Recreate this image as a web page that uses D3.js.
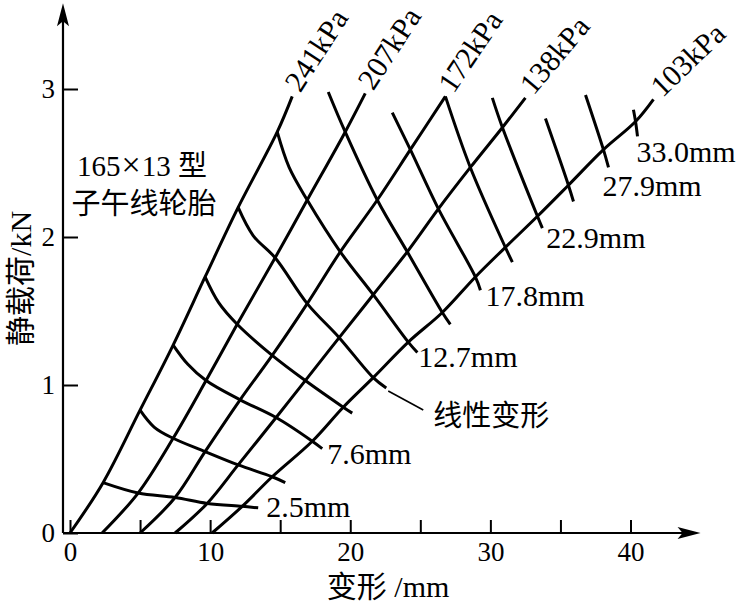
<!DOCTYPE html>
<html>
<head>
<meta charset="utf-8">
<script src="https://cdn.jsdelivr.net/npm/d3@7"></script>
<style>
body { margin: 0; background: #fff; }
text { font-family: "Liberation Serif", "Noto Sans CJK SC", serif; fill: #000; }
</style>
</head>
<body>
<div id="chart"></div>
<script>
const WIDTH = 738, HEIGHT = 603;

// inflation pressure curves: [deflection mm, static load kN]
const pressureNames = ["241kPa", "207kPa", "172kPa", "138kPa", "103kPa"];
const kpa241 = [[0,0],[2.36,0.34],[5.0,0.83],[7.36,1.27],[9.64,1.73],[12.0,2.20],[14.79,2.71],[15.86,2.95]];
const kpa207 = [[2.29,0],[4.86,0.27],[7.36,0.64],[9.71,1.03],[11.93,1.41],[14.64,1.86],[16.93,2.25],[19.64,2.71],[21.07,2.97]];
const kpa172 = [[5.0,0],[7.5,0.24],[9.64,0.55],[12.14,0.90],[14.43,1.20],[16.93,1.55],[19.29,1.90],[21.93,2.25],[24.29,2.59],[26.79,2.95]];
const kpa138 = [[7.5,0],[9.79,0.20],[12.0,0.46],[14.71,0.78],[16.79,1.03],[19.21,1.32],[21.64,1.61],[24.07,1.90],[26.29,2.19],[28.57,2.47],[30.86,2.74],[32.5,2.94]];
const kpa103 = [[10.14,0],[12.29,0.18],[14.43,0.38],[17.29,0.62],[19.5,0.85],[21.64,1.05],[24.14,1.29],[26.57,1.49],[28.93,1.73],[31.07,1.93],[33.36,2.14],[35.57,2.35],[38.07,2.59],[40.36,2.78],[41.64,2.93]];
const pressureCurves = [kpa241, kpa207, kpa172, kpa138, kpa103];

// cross lines (mm), from the 241kPa side down to the 103kPa side
const w1  = [[2.36,0.34],[4.86,0.27],[7.5,0.24],[9.79,0.20],[12.29,0.18],[13.43,0.17]];
const w2  = [[5.0,0.83],[6.0,0.716],[7.36,0.64],[9.64,0.55],[12.0,0.46],[14.43,0.38],[15.36,0.34]];
const w3  = [[7.36,1.27],[8.41,1.14],[9.71,1.03],[12.14,0.90],[14.71,0.78],[17.29,0.62],[18.0,0.57]];
const w4  = [[9.64,1.73],[10.61,1.556],[11.93,1.41],[14.43,1.20],[16.79,1.03],[19.5,0.85],[20.14,0.81]];
const w5  = [[12.0,2.20],[13.07,2.01],[14.64,1.86],[16.93,1.55],[19.21,1.32],[21.64,1.05],[22.57,0.98]];
const w6  = [[14.79,2.71],[15.64,2.47],[16.93,2.25],[19.29,1.90],[21.64,1.61],[24.14,1.29],[24.79,1.22]];
const w7  = [[18.43,2.98],[19.64,2.71],[21.93,2.25],[24.07,1.90],[26.57,1.49],[27.14,1.41]];
const w8  = [[23.0,2.84],[24.29,2.59],[26.29,2.19],[28.93,1.73],[29.29,1.64]];
const w9  = [[26.79,2.95],[28.57,2.47],[31.07,1.93],[31.57,1.83]];
const w10 = [[30.14,2.94],[30.86,2.74],[33.36,2.14],[33.71,2.06]];
const w11 = [[33.93,2.80],[35.57,2.35],[35.93,2.24]];
const w12 = [[36.79,2.96],[38.07,2.59],[38.43,2.47]];
const w13 = [[40.21,2.86],[40.36,2.78],[40.5,2.68]];
const crossLines = [w1, w2, w3, w4, w5, w6, w7, w8, w9, w10, w11, w12, w13];
const crossLabels = ["2.5mm", null, "7.6mm", null, null, "12.7mm", null, "17.8mm", null, "22.9mm", null, "27.9mm", "33.0mm"];

// axes
const xTicks = [0, 5, 10, 15, 20, 25, 30, 35, 40];
const xTickLabels = [0, 10, 20, 30, 40];
const yTicks = [0, 1, 2, 3];

// label placement (pixels, relative to the end of each line)
const crossLabelOffset = {0: [8, 9], 2: [5, 15], 5: [1, 15], 7: [5, 16], 9: [4, 20], 11: [-6, 29], 12: [-1, 26]};
const pressureLabelStyle = [
  {dx: 8, dy: -3, angle: -57},
  {dx: 8, dy: -2, angle: -57},
  {dx: 8, dy: -2, angle: -56},
  {dx: 8, dy: -2, angle: -50},
  {dx: 9, dy: -1, angle: -44}
];

let svg = d3.select("#chart")
  .append("svg")
  .attr("width", WIDTH)
  .attr("height", HEIGHT)
  .style("background", "#fff");

let x = d3.scaleLinear().domain([0, 40]).range([70, 630.5]);
let y = d3.scaleLinear().domain([0, 3]).range([533, 89]);

let axisX0 = x(-0.5);   // vertical axis sits a little left of 0
let xEnd = x(45.0), yTop = y(3.58);

// axis lines + arrow heads
svg.append("line")
  .attr("x1", axisX0).attr("y1", y(0)).attr("x2", xEnd - 10).attr("y2", y(0))
  .attr("stroke", "#000").attr("stroke-width", 2.2);
svg.append("line")
  .attr("x1", axisX0).attr("y1", y(0)).attr("x2", axisX0).attr("y2", yTop + 10)
  .attr("stroke", "#000").attr("stroke-width", 2.2);
svg.append("path")
  .attr("d", `M${xEnd},${y(0)} L${xEnd - 23},${y(0) - 6} L${xEnd - 18},${y(0)} L${xEnd - 23},${y(0) + 6} Z`)
  .attr("fill", "#000");
svg.append("path")
  .attr("d", `M${axisX0},${yTop} L${axisX0 - 6},${yTop + 23} L${axisX0},${yTop + 18} L${axisX0 + 6},${yTop + 23} Z`)
  .attr("fill", "#000");

let gx = svg.append("g")
  .attr("transform", `translate(0, ${y(0)})`)
  .call(d3.axisBottom(x).tickValues(xTicks).tickSize(-13).tickPadding(9)
    .tickFormat(d => xTickLabels.includes(d) ? d : ""));
gx.select(".domain").remove();
gx.selectAll(".tick line").attr("stroke", "#000").attr("stroke-width", 2);
gx.selectAll("text").style("font-size", "27px").style("font-family", "Liberation Serif").attr("fill", "#000");

let gy = svg.append("g")
  .attr("transform", `translate(${axisX0}, 0)`)
  .call(d3.axisLeft(y).tickValues(yTicks).tickSize(-15).tickPadding(8).tickFormat(d3.format("d")));
gy.select(".domain").remove();
gy.selectAll(".tick line").attr("stroke", "#000").attr("stroke-width", 2);
gy.selectAll("text").style("font-size", "27px").style("font-family", "Liberation Serif").attr("fill", "#000");

// curves
let line = d3.line()
  .x(d => x(d[0]))
  .y(d => y(d[1]))
  .curve(d3.curveCatmullRom.alpha(0.5));

svg.append("g").selectAll("path")
  .data(pressureCurves)
  .enter().append("path")
  .attr("d", line)
  .attr("fill", "none")
  .attr("stroke", "#000")
  .attr("stroke-width", 3);

svg.append("g").selectAll("path")
  .data(crossLines)
  .enter().append("path")
  .attr("d", line)
  .attr("fill", "none")
  .attr("stroke", "#000")
  .attr("stroke-width", 3);

// pressure labels, rotated along the curve ends
svg.append("g").selectAll("text")
  .data(pressureCurves)
  .enter().append("text")
  .attr("transform", function(d, i) {
    let end = d[d.length - 1], s = pressureLabelStyle[i];
    return `translate(${x(end[0]) + s.dx}, ${y(end[1]) + s.dy}) rotate(${s.angle})`;
  })
  .style("font-size", "30px")
  .text((d, i) => pressureNames[i]);

// cross line labels
svg.append("g").selectAll("text")
  .data(crossLines.filter((d, i) => crossLabels[i]))
  .enter().append("text")
  .each(function(d) {
    let i = crossLines.indexOf(d), end = d[d.length - 1], off = crossLabelOffset[i];
    d3.select(this)
      .attr("x", x(end[0]) + off[0])
      .attr("y", y(end[1]) + off[1])
      .text(crossLabels[i]);
  })
  .style("font-size", "30px");

// "linear deformation" pointer off the end of the fifth line
let w5End = w5[w5.length - 1];
svg.append("line")
  .attr("x1", x(w5End[0]) + 2).attr("y1", y(w5End[1]) + 3)
  .attr("x2", x(w5End[0]) + 37).attr("y2", y(w5End[1]) + 22)
  .attr("stroke", "#000").attr("stroke-width", 1.6);
svg.append("text")
  .attr("x", x(w5End[0]) + 47).attr("y", y(w5End[1]) + 38)
  .style("font-size", "29px")
  .text("线性变形");

// tyre note
let note1 = svg.append("text")
  .attr("x", x(0.5)).attr("y", y(2.41))
  .style("font-size", "29px");
note1.append("tspan").text("165");
note1.append("tspan").style("font-size", "34px").attr("dx", 1).text("×");
note1.append("tspan").attr("dx", 1).text("13 型");
svg.append("text")
  .attr("x", x(0.1)).attr("y", y(2.155))
  .style("font-size", "29px")
  .text("子午线轮胎");

// axis titles
svg.append("text")
  .attr("x", x(22.7)).attr("y", 597)
  .style("text-anchor", "middle")
  .style("font-size", "30px")
  .text("变形 /mm");
svg.append("text")
  .attr("transform", `translate(31, ${y(1.72)}) rotate(-90)`)
  .style("text-anchor", "middle")
  .style("font-size", "30px")
  .text("静载荷/kN");
</script>
</body>
</html>
